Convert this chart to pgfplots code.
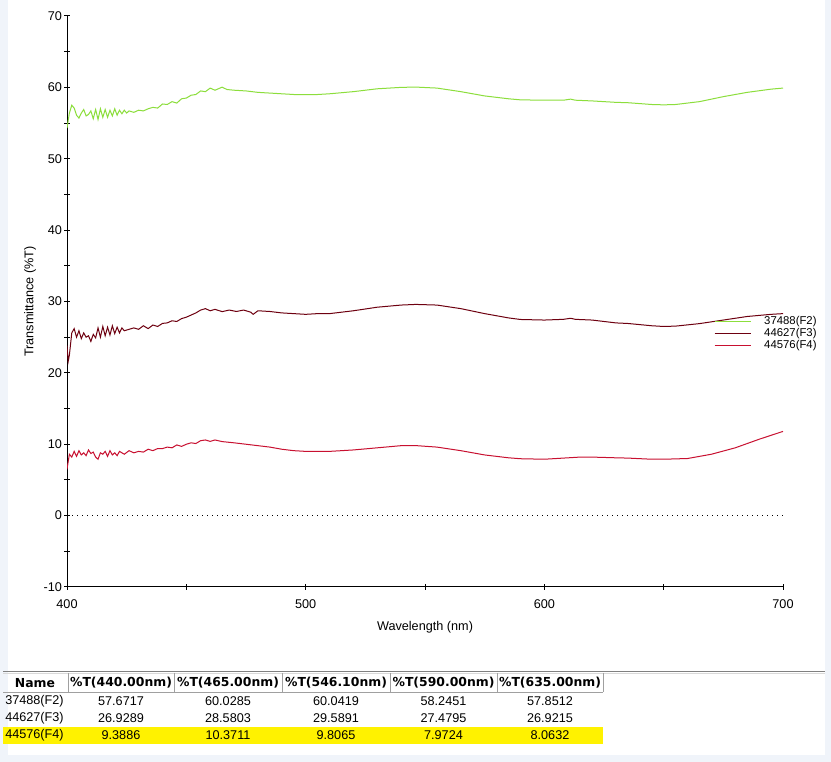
\documentclass[border=0pt]{standalone}
\usepackage{fontspec}
\setmainfont{Liberation Sans}
\newfontfamily\hdrfont{DejaVu Sans}
\usepackage{pgfplots}
\pgfplotsset{compat=1.18}
\definecolor{bgblue}{RGB}{240,244,250}
\definecolor{cF2}{RGB}{140,222,60}
\definecolor{cF3}{RGB}{110,0,16}
\definecolor{cF4}{RGB}{200,16,48}
\definecolor{tgray}{RGB}{160,160,160}
\begin{document}
\begin{tikzpicture}
\useasboundingbox (0,0) rectangle (623.25pt,571.5pt);
\begin{scope}[x=0.75pt,y=-0.75pt,shift={(0pt,571.5pt)}]
\fill[bgblue] (0,0) rectangle (831,762);
\fill[white] (8,0) rectangle (825,755);
\end{scope}
\begin{axis}[
  at={(50.25pt,131.25pt)}, anchor=south west,
  scale only axis, width=537pt, height=428.25pt,
  xmin=400, xmax=700, ymin=-10, ymax=70,
  axis lines=left, axis line style={-, line width=0.75pt},
  xtick={400,500,600,700}, minor xtick={450,550,650},
  ytick={-10,0,...,70}, minor ytick={-5,5,...,65},
  tick align=center, major tick length=4.5pt, minor tick length=4.5pt,
  tick style={black, line width=0.75pt},
  /pgf/number format/assume math mode=true,
  ticklabel style={font=\fontsize{9.5}{10}\selectfont},
  xticklabel style={yshift=-4pt},
  yticklabel style={xshift=2pt},
  xlabel={Wavelength (nm)}, ylabel={Transmittance (\%T)},
  label style={font=\fontsize{9.5}{11}\selectfont},
  xlabel style={at={(axis description cs:0.5,-0.07)}, anchor=center},
  ylabel style={at={(axis description cs:-0.0517,0.5)}, anchor=center},
  legend cell align=left,
  legend image code/.code={\draw[#1] (0pt,0pt) -- (27pt,0pt);},
  legend style={at={(axis description cs:0.9036,0.475)}, anchor=north west,
    draw=none, fill=none, inner sep=0pt, row sep=1pt,
    font=\fontsize{8.5}{9}\selectfont,
    nodes={inner sep=0pt, text height=6.2pt, text depth=1.8pt},
    /tikz/every odd column/.append style={column sep=9.75pt}},
  every axis plot/.append style={line width=0.75pt},
]
\addplot[black, line width=0.75pt, dash pattern=on 0.75pt off 3pt, forget plot] coordinates {(400,0) (700,0)};
\addplot[cF2] coordinates {(400,54.3)(401,56.4)(402,57.5)(403,57.1)(404,56.1)(405,55.7)(406,56.4)(407,56.9)(408,56.0)(409,56.2)(410,56.7)(411,55.6)(412,56.9)(413,55.5)(414,57.0)(415,55.8)(416,56.9)(417,55.8)(418,56.8)(419,56.0)(420,57.0)(421,56.1)(422,56.8)(423,56.3)(424,56.8)(425,56.4)(426,56.7)(428,56.5)(430,56.8)(432,56.7)(434,57.0)(436,57.2)(438,57.1)(440,57.67)(442,57.6)(444,58.0)(446,57.8)(448,58.4)(450,58.5)(452,58.9)(454,59.0)(456,59.5)(458,59.4)(460,59.9)(462,59.6)(465,60.03)(467,59.7)(470,59.6)(475,59.5)(480,59.3)(485,59.2)(490,59.1)(495,59.0)(500,59.0)(505,59.0)(510,59.1)(520,59.4)(530,59.8)(540,60.0)(546.1,60.04)(555,59.9)(565,59.4)(575,58.8)(585,58.4)(590,58.25)(600,58.2)(608,58.2)(611,58.35)(613,58.2)(620,58.1)(630,57.9)(635,57.85)(645,57.6)(650,57.55)(655,57.6)(665,58.0)(675,58.7)(685,59.3)(695,59.75)(700,59.9)};
\addlegendentry{37488(F2)}
\addplot[cF3] coordinates {(400,23.8)(400.5,21.6)(401,22.5)(402,25.6)(403,26.2)(404,25.0)(405,25.9)(406,24.8)(407,25.6)(408,25.0)(409,25.2)(410,24.4)(411,25.4)(412,24.9)(413,26.3)(414,25.0)(415,26.5)(416,25.2)(417,26.4)(418,25.3)(419,26.6)(420,25.5)(421,26.4)(422,25.6)(423,26.3)(424,25.9)(426,26.1)(428,26.3)(430,26.1)(432,26.6)(434,26.2)(436,26.7)(438,26.5)(440,26.93)(442,27.0)(444,27.3)(446,27.2)(448,27.6)(450,27.8)(452,28.1)(454,28.4)(456,28.8)(458,29.0)(460,28.7)(462,28.9)(465,28.58)(468,28.8)(471,28.6)(474,28.8)(477,28.5)(478,28.2)(480,28.7)(485,28.6)(490,28.4)(495,28.3)(500,28.2)(505,28.3)(510,28.3)(520,28.7)(530,29.2)(540,29.5)(546.1,29.59)(555,29.5)(565,29.0)(575,28.3)(585,27.7)(590,27.48)(600,27.4)(608,27.5)(611,27.65)(613,27.5)(620,27.4)(630,27.0)(635,26.92)(645,26.6)(650,26.5)(655,26.55)(665,26.9)(675,27.4)(685,27.9)(695,28.2)(700,28.3)};
\addlegendentry{44627(F3)}
\addplot[cF4] coordinates {(400,6.5)(401,8.6)(402,8.2)(403,9.0)(404,8.3)(405,9.1)(406,8.5)(407,8.8)(408,8.4)(409,9.2)(410,8.7)(411,8.9)(412,8.2)(413,7.9)(414,8.8)(415,8.6)(416,9.0)(417,8.3)(418,9.1)(419,8.5)(420,8.8)(421,8.4)(422,9.0)(424,8.6)(426,9.1)(428,8.8)(430,9.0)(432,8.9)(434,9.3)(436,9.1)(438,9.4)(440,9.39)(442,9.6)(444,9.5)(446,9.9)(448,9.7)(450,10.0)(452,10.2)(454,10.1)(456,10.5)(458,10.6)(460,10.4)(462,10.6)(465,10.37)(470,10.2)(475,10.0)(480,9.8)(485,9.6)(490,9.3)(495,9.1)(500,9.0)(505,9.0)(510,9.0)(520,9.2)(530,9.5)(540,9.8)(546.1,9.81)(555,9.6)(565,9.1)(575,8.5)(585,8.1)(590,7.97)(600,7.9)(610,8.1)(615,8.2)(620,8.2)(630,8.1)(635,8.06)(645,7.9)(650,7.9)(660,8.0)(670,8.6)(680,9.5)(690,10.7)(700,11.8)};
\addlegendentry{44576(F4)}
\end{axis}
\begin{scope}[x=0.75pt,y=-0.75pt,shift={(0pt,571.5pt)}]
\draw[gray, line width=0.75pt] (3,672) -- (825,672);
\draw[tgray!40, line width=0.75pt] (3,673.2) -- (825,673.2);
\fill[yellow] (3,727) rectangle (603,744);
\draw[tgray, line width=0.6pt] (3,692) -- (603,692);
\foreach \c in {68,174,282,390,497,603} \draw[tgray, line width=0.6pt] (\c,673) -- (\c,692);
\begin{scope}[every node/.style={font=\hdrfont\bfseries\fontsize{9.3}{11}\selectfont, inner sep=0pt, anchor=center}]
\node at (35,683) {Name};
\node at (121,683) {\%T(440.00nm)};
\node at (228,683) {\%T(465.00nm)};
\node at (336,683) {\%T(546.10nm)};
\node at (443.5,683) {\%T(590.00nm)};
\node at (550,683) {\%T(635.00nm)};
\end{scope}
\begin{scope}[every node/.style={font=\fontsize{9.5}{11}\selectfont, inner sep=0pt}]
\node[anchor=west] at (5,701) {37488(F2)};
\node at (121,701) {57.6717};
\node at (228,701) {60.0285};
\node at (336,701) {60.0419};
\node at (443.5,701) {58.2451};
\node at (550,701) {57.8512};
\node[anchor=west] at (5,718) {44627(F3)};
\node at (121,718) {26.9289};
\node at (228,718) {28.5803};
\node at (336,718) {29.5891};
\node at (443.5,718) {27.4795};
\node at (550,718) {26.9215};
\node[anchor=west] at (5,735) {44576(F4)};
\node at (121,735) {9.3886};
\node at (228,735) {10.3711};
\node at (336,735) {9.8065};
\node at (443.5,735) {7.9724};
\node at (550,735) {8.0632};
\end{scope}
\end{scope}
\end{tikzpicture}
\end{document}
